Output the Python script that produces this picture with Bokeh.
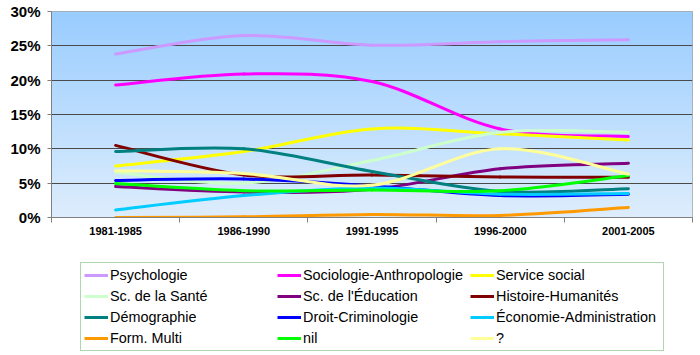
import numpy as np
from bokeh.plotting import figure
from bokeh.layouts import column
from bokeh.models import (FixedTicker, Legend, LegendItem, PrintfTickFormatter,
                          ColumnDataSource)
from bokeh.embed import file_html
from bokeh.resources import INLINE

# ---------------- data (percent) ----------------
categories = ["1981-1985", "1986-1990", "1991-1995", "1996-2000", "2001-2005"]

psychologie = [23.8, 26.5, 25.1, 25.6, 25.9]
sociologie_anthropologie = [19.3, 20.9, 19.8, 12.9, 11.8]
service_social = [7.5, 9.6, 12.9, 12.2, 11.3]
sc_sante = [6.6, 5.0, 8.3, 12.4, 12.4]
sc_education = [4.5, 3.7, 4.1, 7.1, 7.9]
histoire_humanites = [10.5, 6.2, 6.2, 5.9, 5.85]
demographie = [9.6, 10.0, 6.7, 3.8, 4.2]
droit_criminologie = [5.4, 5.6, 4.6, 3.2, 3.4]
economie_administration = [1.1, 3.2, 4.3, 3.4, 3.5]
form_multi = [0.0, 0.1, 0.45, 0.3, 1.45]
nil = [4.95, 3.9, 4.0, 3.9, 6.1]
inconnu = [6.8, 6.4, 4.7, 10.0, 6.3]

series_names = ["Psychologie", "Sociologie-Anthropologie", "Service social",
                "Sc. de la Santé", "Sc. de l'Éducation", "Histoire-Humanités",
                "Démographie", "Droit-Criminologie", "Économie-Administration",
                "Form. Multi", "nil", "?"]
series_values = [psychologie, sociologie_anthropologie, service_social, sc_sante,
                 sc_education, histoire_humanites, demographie, droit_criminologie,
                 economie_administration, form_multi, nil, inconnu]
series_colors = ["#CC99FF", "#FF00FF", "#FFFF00", "#CCFFCC", "#800080", "#800000",
                 "#008080", "#0000FF", "#00CCFF", "#FF9900", "#00FF00", "#FFFF99"]

y_ticks = [0, 5, 10, 15, 20, 25, 30]

# ---------------- chart figure ----------------
n_cat = len(categories)
p = figure(width=700, height=250, output_backend="svg", toolbar_location=None,
           x_range=(0, n_cat), y_range=(0, 30),
           min_border_left=51, min_border_top=11, min_border_right=8,
           min_border_bottom=33)
p.border_fill_color = "white"
p.background_fill_color = "#BBDDFD"
p.outline_line_color = "#A6A6A6"

# vertical gradient background of plot area
rows = 256
top_c = np.array([153, 204, 255], dtype=float)
bot_c = np.array([221, 237, 252], dtype=float)
img = np.empty((rows, 1), dtype=np.uint32)
view = img.view(dtype=np.uint8).reshape((rows, 1, 4))
for i in range(rows):
    t = i / (rows - 1)          # 0 = bottom, 1 = top
    c = bot_c + (top_c - bot_c) * t
    view[i, 0, 0] = int(round(c[0]))
    view[i, 0, 1] = int(round(c[1]))
    view[i, 0, 2] = int(round(c[2]))
    view[i, 0, 3] = 255
p.image_rgba(image=[img], x=0, y=0, dw=n_cat, dh=30, level="image")

# grid
p.xgrid.visible = False
p.ygrid.ticker = FixedTicker(ticks=y_ticks[1:-1])
p.ygrid.grid_line_color = "#4A4A4A"
p.ygrid.grid_line_width = 1

# y axis
p.yaxis.ticker = FixedTicker(ticks=y_ticks)
p.yaxis.formatter = PrintfTickFormatter(format="%d%%")
p.yaxis.major_label_text_font = "Liberation Sans"
p.yaxis.major_label_text_font_style = "bold"
p.yaxis.major_label_text_font_size = "15px"
p.yaxis.major_label_text_color = "black"
p.yaxis.major_tick_out = 4
p.yaxis.major_tick_in = 0
p.yaxis.minor_tick_line_color = None
p.yaxis.axis_line_color = "#808080"
p.yaxis.major_tick_line_color = "#808080"
p.yaxis.major_label_standoff = 7

# x axis (labels at category centres, ticks between categories)
centers = [i + 0.5 for i in range(n_cat)]
p.xaxis.ticker = FixedTicker(ticks=centers, minor_ticks=list(range(n_cat + 1)))
p.xaxis.major_label_overrides = {c: lab for c, lab in zip(centers, categories)}
p.xaxis.major_tick_line_color = None
p.xaxis.major_tick_out = 0
p.xaxis.major_tick_in = 0
p.xaxis.minor_tick_out = 5
p.xaxis.minor_tick_in = 0
p.xaxis.minor_tick_line_color = "#808080"
p.xaxis.axis_line_color = "#808080"
p.xaxis.major_label_text_font = "Liberation Sans"
p.xaxis.major_label_text_font_style = "bold"
p.xaxis.major_label_text_font_size = "11px"
p.xaxis.major_label_text_color = "black"
p.xaxis.major_label_standoff = 4


# smoothed lines (cubic Bezier through each data point, Catmull-Rom tangents)
def bezier_source(vals):
    xs = centers
    n = len(vals)
    d = dict(x0=[], y0=[], x1=[], y1=[], cx0=[], cy0=[], cx1=[], cy1=[])
    for i in range(n - 1):
        a = i - 1 if i > 0 else i
        b = i + 2 if i + 2 < n else i + 1
        d["x0"].append(xs[i]); d["y0"].append(vals[i])
        d["x1"].append(xs[i + 1]); d["y1"].append(vals[i + 1])
        d["cx0"].append(xs[i] + (xs[i + 1] - xs[a]) / 6)
        d["cy0"].append(vals[i] + (vals[i + 1] - vals[a]) / 6)
        d["cx1"].append(xs[i + 1] - (xs[b] - xs[i]) / 6)
        d["cy1"].append(vals[i + 1] - (vals[b] - vals[i]) / 6)
    return ColumnDataSource(d)


for name, vals, col in zip(series_names, series_values, series_colors):
    p.bezier(x0="x0", y0="y0", x1="x1", y1="y1", cx0="cx0", cy0="cy0",
             cx1="cx1", cy1="cy1", source=bezier_source(vals),
             line_color=col, line_width=3, line_cap="round")

# ---------------- legend figure ----------------
q = figure(width=700, height=105, output_backend="svg", toolbar_location=None,
           x_axis_location=None, y_axis_location=None,
           x_range=(0, n_cat), y_range=(0, 30),
           min_border_left=0, min_border_right=0, min_border_top=0,
           min_border_bottom=0)
q.grid.visible = False
q.outline_line_color = None
q.background_fill_color = "white"
q.border_fill_color = "white"

items = []
for name, vals, col in zip(series_names, series_values, series_colors):
    # proxy renderer (hidden) that only provides the legend swatch
    r = q.line(x=centers, y=vals, line_color=col, line_width=3, visible=False)
    items.append(LegendItem(label=name, renderers=[r]))

legend = Legend(items=items, orientation="horizontal", ncols=3,
                location=(29, 4), margin=0, padding=3, spacing=3,
                glyph_width=24, glyph_height=18, label_height=18,
                label_width=164, label_standoff=2,
                label_text_font="Liberation Sans", label_text_font_size="14.4px",
                label_text_color="black",
                inactive_fill_alpha=0.0,
                border_line_color="#5FB05F", border_line_width=1,
                background_fill_color="white", background_fill_alpha=1.0)
q.add_layout(legend, "center")

layout = column(p, q, spacing=0)
open("out.html", "w").write(file_html(layout, INLINE))
